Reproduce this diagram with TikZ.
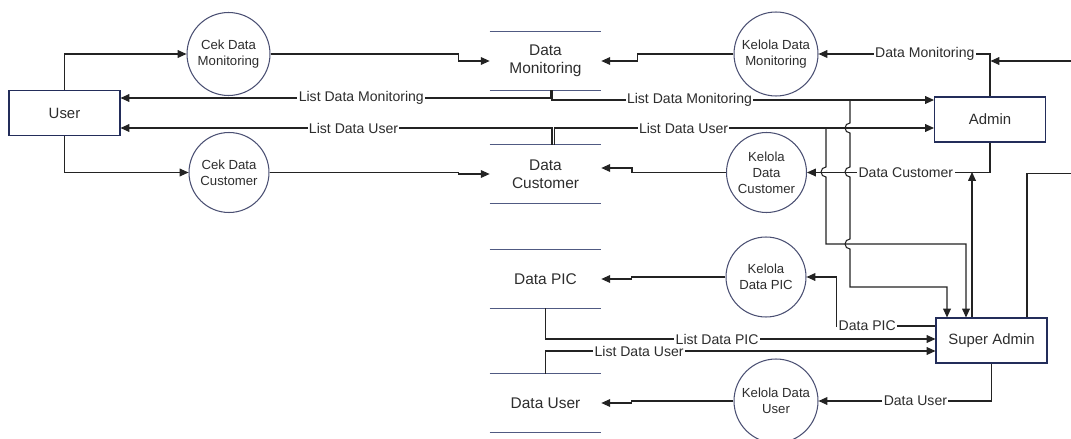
\documentclass[tikz,border=0pt]{standalone}
\usepackage{fontspec}
\setmainfont{Liberation Sans}
\usetikzlibrary{arrows.meta}
\definecolor{boxline}{RGB}{35,45,90}
\definecolor{procline}{RGB}{75,80,115}
\definecolor{storeline}{RGB}{80,90,130}
\definecolor{flowline}{RGB}{35,35,35}
\definecolor{txt}{RGB}{45,45,45}
\begin{document}
\begin{tikzpicture}[x=0.02cm,y=-0.02cm,
  entity/.style={draw=boxline,line width=0.6pt,minimum width=2.22cm,minimum height=0.9cm,font=\fontsize{8.5}{10}\selectfont,text=txt},
  proc/.style={circle,draw=procline,line width=0.6pt,inner sep=0pt,align=center,font=\fontsize{7.5}{9}\selectfont,text=txt},
  store/.style={minimum width=2.22cm,minimum height=1.16cm,align=center,font=\fontsize{8.8}{10}\selectfont,text=txt},
  flow/.style={draw=flowline,line width=0.6pt,-{Triangle[length=5pt,width=4.4pt]}},
  lbl/.style={fill=white,inner sep=0.8pt,font=\fontsize{8}{9}\selectfont,text=txt}]
\useasboundingbox (0,0) rectangle (1071,439);

\node[entity] (user) at (64.5,113) {User};
\node[entity] (admin) at (990,119.5) {Admin};
\node[entity] (sadmin) at (991.5,340.5) {Super Admin};

\node[proc,minimum size=1.66cm] (cdm) at (228.5,54) {Cek Data\\Monitoring};
\node[proc,minimum size=1.6cm] (cdc) at (229,172.5) {Cek Data\\Customer};
\node[proc,minimum size=1.68cm] (kdm) at (776,54) {Kelola Data\\Monitoring};
\node[proc,minimum size=1.6cm] (kdc) at (766.5,172.5) {Kelola\\Data\\Customer};
\node[proc,minimum size=1.6cm] (kdp) at (766,277) {Kelola\\Data PIC};
\node[proc,minimum size=1.68cm] (kdu) at (776,401) {Kelola Data\\User};

\node[store] (dm) at (545.5,61) {Data\\Monitoring};
\node[store] (dc) at (545.5,174) {Data\\Customer};
\node[store] (dp) at (545.5,279) {Data PIC};
\node[store] (du) at (545.5,403) {Data User};
\foreach \s in {dm,dc,dp,du}
  \draw[storeline,line width=0.8pt] (\s.north west) -- (\s.north east) (\s.south west) -- (\s.south east);

\coordinate (lm1) at (550.5,98);
\coordinate (lm2) at (552,100);
\coordinate (lu1) at (552,128);
\coordinate (lu2) at (554.5,128);
\coordinate (ba) at (850,100);
\coordinate (bb) at (826,128);
\coordinate (dcj) at (972,172);
\coordinate (amj) at (990.5,61);

\draw[flow] (user.north) |- (cdm);
\draw[flow] (user.south) |- (cdc);
\draw[flow] (cdm.east) -- ++(188,0) |- (dm.west);
\draw[flow] (cdc.east) -- ++(189,0) |- (dc.west);

\draw[flow] (admin.north) |- node[lbl,pos=0.69]{Data Monitoring} (kdm);
\draw[flow] (kdm.west) -- ++(-96,0) |- (dm.east);
\draw[flow] (admin.south) |- node[lbl,pos=0.73]{Data Customer} (kdc);
\draw[flow] (kdc.west) -- ++(-94,0) |- ([yshift=0.12cm]dc.east);
\draw[flow] (kdp.west) -- ++(-94,0) |- (dp.east);
\draw[flow] (kdu.west) -- ++(-102,0) |- (du.east);

\draw[flow] (dm.south -| lm1) -- (lm1) -- node[lbl,pos=0.44]{List Data Monitoring} (user.east |- lm1);
\draw[flow] (dm.south -| lm2) -- (lm2) -- node[lbl,pos=0.36]{List Data Monitoring} (admin.west |- lm2);
\draw[flow] (dc.north -| lu1) -- (lu1) -- node[lbl,pos=0.46]{List Data User} (user.east |- lu1);
\draw[flow] (dc.north -| lu2) -- (lu2) -- node[lbl,pos=0.34]{List Data User} (admin.west |- lu2);

\draw[flow] (ba) -- ++(0,23) arc[start angle=-90,end angle=-270,radius=5] -- ++(0,34)
  arc[start angle=-90,end angle=-270,radius=5] -- ++(0,62)
  arc[start angle=-90,end angle=-270,radius=5] -- ++(0,38) -| ([xshift=-0.89cm]sadmin.north);
\draw[flow] (bb) -- ++(0,39) arc[start angle=-90,end angle=-270,radius=5] -- ++(0,67)
  -| ([xshift=-0.51cm]sadmin.north);
\draw[flow] (dcj |- sadmin.north) -- (dcj);
\draw[flow] ([xshift=0.71cm]sadmin.north) -- ++(0,-144) -- ++(60,0) |- (amj);

\draw[flow] ([yshift=0.29cm]sadmin.west) -- node[lbl,pos=0.69]{Data PIC} ++(-99,0) |- (kdp);
\draw[flow] (sadmin.south) |- node[lbl,pos=0.72]{Data User} (kdu);
\draw[flow] (dp.south) |- node[lbl,pos=0.72]{List Data PIC} ([yshift=0.03cm]sadmin.west);
\draw[flow] (du.north) |- node[lbl,pos=0.62]{List Data User} ([yshift=-0.21cm]sadmin.west);
\end{tikzpicture}
\end{document}
